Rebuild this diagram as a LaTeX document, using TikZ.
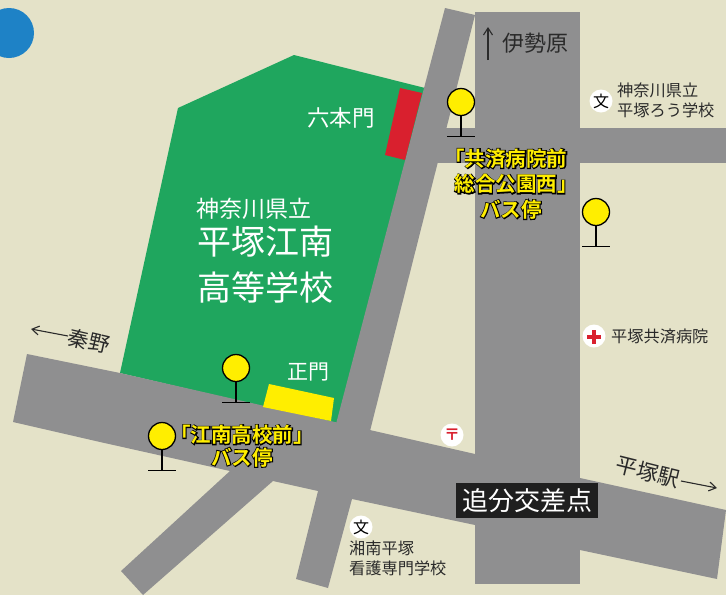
\documentclass[tikz,border=0pt]{standalone}
\usepackage{fontspec}
\setmainfont{Noto Sans CJK JP}
\newfontfamily\jpout[FakeBold=9]{Noto Sans CJK JP Bold}
\newfontfamily\jpbold{Noto Sans CJK JP Bold}
\definecolor{paper}{HTML}{E4E2C8}
\definecolor{roadgray}{HTML}{8F8F90}
\definecolor{schoolgreen}{HTML}{1FA65E}
\definecolor{gatered}{HTML}{D9202E}
\definecolor{gateyellow}{HTML}{FFEE00}
\definecolor{mapblue}{HTML}{1E82C6}
\definecolor{inkdark}{HTML}{2A2A2A}
\newcommand{\pxs}[1]{\fontsize{#1}{#1}\selectfont}
\newcommand{\busline}[1]{\makebox[0pt][l]{\jpout\color{black}#1}{\jpbold\color{gateyellow}#1}}
\newcommand{\lb}{\kern-.5em「}
\newcommand{\rb}{」\kern-.5em}
\usetikzlibrary{arrows.meta}
\tikzset{
  road/.style={fill=roadgray,draw=none},
  pinhead/.style={circle,draw=black,line width=1.3pt,fill=gateyellow,minimum size=27pt,inner sep=0pt},
  pinline/.style={draw=black,line width=1.6pt},
  mark disc/.style={circle,fill=white,minimum size=23pt,inner sep=0pt},
  darklabel/.style={text=inkdark,inner sep=0pt},
  whitelabel/.style={text=white,inner sep=0pt},
  buslabel/.style={inner sep=0pt,align=center},
  thinarrow/.style={draw=inkdark,line width=1.1pt,-{Straight Barb[length=7pt,width=9pt]}},
}
\newcommand{\buspin}[3]{%
  \node[pinhead] (#1) at (#2,#3) {};
  \coordinate (#1b) at (#2,#3+34.5);
  \coordinate (#1l) at (#2-14,#3+34.5);
  \coordinate (#1r) at (#2+14,#3+34.5);
  \draw[pinline] (#1) -- (#1b);
  \draw[pinline] (#1l) -- (#1r);
}
\begin{document}
\begin{tikzpicture}[x=1pt,y=-1pt]
\useasboundingbox (0,0) rectangle (726,595);
\clip (0,0) rectangle (726,595);
\fill[paper] (0,0) rectangle (726,595);
\fill[mapblue] (9,33) circle (25);
% school ground
\fill[schoolgreen] (178,108) -- (294,55) -- (425,88) -- (338,424) -- (120,373) -- cycle;
% roads
\fill[road] (475,12) rectangle (580,584);
\fill[road] (445,8) -- (475,15) -- (370,431) -- (336,424) -- cycle;
\fill[road] (420,128) rectangle (726,163);
\fill[road] (27,354) -- (120,373) -- (475,454) -- (580,478) -- (726,510) -- (717,579) -- (580,550) -- (475,525)
  -- (352,499) -- (328,588) -- (296,579) -- (318,491) -- (273,481) -- (143,595) -- (121,571) -- (230,471) -- (100,442) -- (13,422) -- cycle;
% gates
\fill[gatered] (400,88) -- (422,93) -- (405,160) -- (385,155) -- cycle;
\fill[gateyellow] (269,384) -- (334,398) -- (331,421) -- (263,407) -- cycle;
% school labels
\node[whitelabel,font=\pxs{22.5}] (rokuhon) at (341,118) {六本門};
\node[whitelabel,font=\pxs{21}] (shoumon) at (308,372) {正門};
\node[whitelabel,font=\pxs{23}] (kenritsu) at (254,209) {神奈川県立};
\node[whitelabel,font=\pxs{34}] (hiratsuka) at (265,242) {平塚江南};
\node[whitelabel,font=\pxs{34}] (koutou) at (265,288) {高等学校};
% direction labels
\node[darklabel,font=\pxs{22}] (isehara) at (535,43) {伊勢原};
\coordinate (iseA) at (488,60);
\coordinate (iseB) at (488,27);
\draw[thinarrow] (iseA) -- (iseB);
\node[darklabel,font=\pxs{21},rotate=-13] (hadano) at (89,341) {秦野};
\coordinate (hadA) at (68,336);
\coordinate (hadB) at (31,329);
\draw[thinarrow] (hadA) -- (hadB);
\node[darklabel,font=\pxs{21.5},rotate=-14] (eki) at (648,472) {平塚駅};
\coordinate (ekiA) at (681,481);
\coordinate (ekiB) at (717,488);
\draw[thinarrow] (ekiA) -- (ekiB);
% landmarks
\node[mark disc,font=\pxs{16},text=black] (bun1) at (601,101) {文};
\node[darklabel,font=\pxs{16.2},align=left,anchor=north west] (rou) at (617,83) {神奈川県立\\[3.5pt]平塚ろう学校};
\node[mark disc,font=\pxs{16},text=black] (bun2) at (361,527) {文};
\node[darklabel,font=\pxs{16.2},align=left,anchor=north west] (kango) at (349,541) {湘南平塚\\[3.5pt]看護専門学校};
\node[mark disc] (hosp) at (594,336) {};
\fill[gatered] (592,329.5) rectangle (596,343.5);
\fill[gatered] (587,334.5) rectangle (601,338.5);
\node[darklabel,font=\pxs{16.2},anchor=west] (kyosai) at (611,336) {平塚共済病院};
\node[mark disc,font=\jpbold\pxs{16},text=gatered] (post) at (452,435) {〒};
% junction
\node[fill=black!88,text=white,font=\pxs{26},minimum width=142pt,minimum height=35pt,inner sep=0pt] (oiwake) at (527,500.5) {追分交差点};
% bus stops
\buspin{pinA}{461}{102}
\buspin{pinB}{596}{212}
\buspin{pinC}{236}{368}
\buspin{pinD}{162}{436}
\node[buslabel,font=\pxs{20.5}] (busA) at (511,184) {\busline{\lb 共済病院前}\\[5pt]\busline{総合公園西\rb}\\[5pt]\busline{バス停}};
\node[buslabel,font=\pxs{20.5}] (busB) at (242,446) {\busline{\lb 江南高校前\rb}\\[2pt]\busline{バス停}};
\end{tikzpicture}
\end{document}
